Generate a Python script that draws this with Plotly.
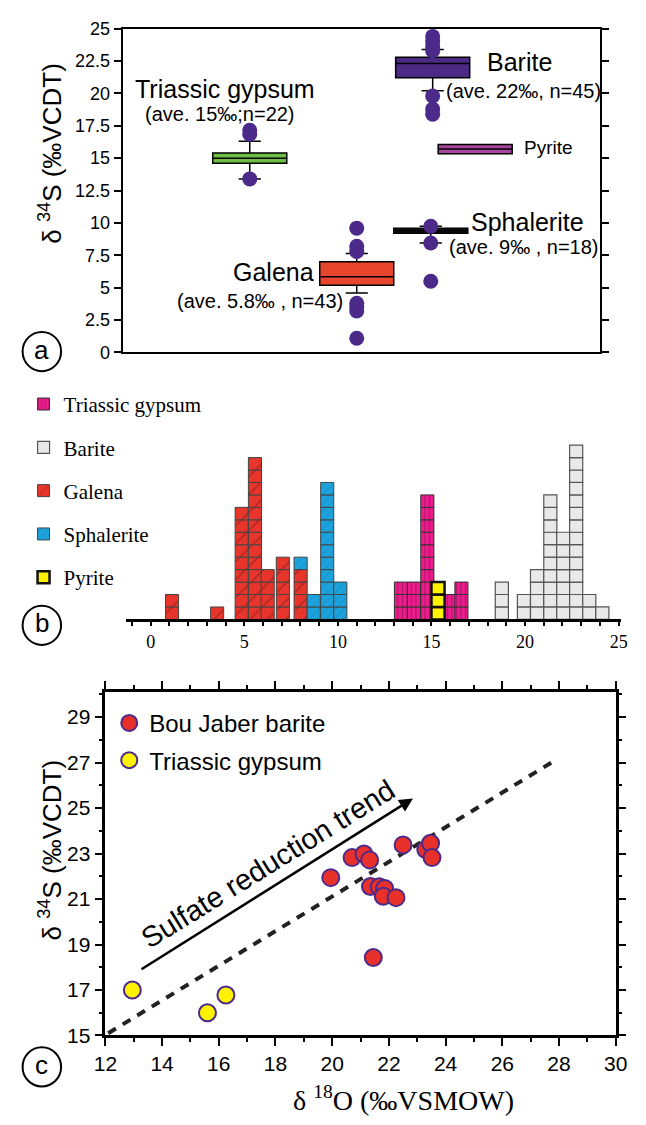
import plotly.graph_objects as go

W, H = 646, 1125

# ---------------- Panel (a): box statistics of d34S ----------------
box_names = ["Triassic gypsum", "Galena", "Barite", "Sphalerite", "Pyrite"]
box_pos = [2.66, 4.90, 6.49, 6.45, 7.38]
box_q1 = [14.6, 5.2, 21.2, 9.2, 15.35]
box_median = [15.0, 5.85, 22.3, 9.4, 15.7]
box_q3 = [15.4, 7.0, 22.8, 9.6, 16.05]
box_lowfence = [13.4, 4.6, 20.2, 8.45, 15.35]
box_highfence = [16.3, 7.65, 23.4, 9.75, 16.05]
box_colors = ["#6DBE45", "#E8452F", "#4B2A84", "#111111", "#A8449C"]

gypsum_outliers = [17.15, 16.85, 13.4]
galena_outliers = [9.6, 8.2, 7.8, 3.8, 3.5, 3.2, 1.1]
barite_outliers = [24.4, 24.0, 23.6, 23.3, 19.8, 18.8, 18.4]
sphalerite_outliers = [9.75, 8.45, 5.5]

# ---------------- Panel (b): histogram counts ----------------
galena_bins = [1.14, 3.55, 4.86, 5.57, 6.25, 7.06, 8.01]
galena_counts = [2, 1, 9, 13, 4, 5, 4]
sphalerite_bins = [8.01, 8.71, 9.43, 10.13]
sphalerite_counts = [1, 2, 11, 3]
gypsum_bins = [13.37, 14.07, 14.78, 15.98, 16.6]
gypsum_counts = [3, 3, 10, 2, 3]
pyrite_bins = [15.35]
pyrite_counts = [3]
barite_bins = [18.76, 19.94, 20.64, 21.35, 22.04, 22.73, 23.43, 24.13]
barite_counts = [3, 2, 4, 10, 7, 14, 2, 1]

# ---------------- Panel (c): d18O vs d34S ----------------
barite_o18 = [19.95, 20.7, 21.12, 21.32, 22.5, 23.3, 23.47, 23.52, 21.35, 21.66, 21.85, 21.8, 22.25, 21.45]
barite_s34 = [21.94, 22.82, 22.98, 22.72, 23.38, 23.18, 23.45, 22.82, 21.55, 21.54, 21.46, 21.12, 21.06, 18.43]
gypsum_o18 = [12.95, 15.6, 16.25]
gypsum_s34 = [17.0, 16.0, 16.78]
trend_x = [12.1, 27.8]
trend_y = [15.1, 27.05]
arrow_x = [13.22, 22.85]
arrow_y = [17.87, 25.42]

PURPLE = "#4B2A8A"
SANS = "Arial, Liberation Sans, sans-serif"
SERIF = "Times New Roman, Liberation Serif, serif"


def px(x):
    return x / W


def py(y):
    return 1 - y / H


fig = go.Figure()

# ---- panel a boxes
for i, name in enumerate(box_names):
    fig.add_trace(go.Box(
        x=[box_pos[i]], q1=[box_q1[i]], median=[box_median[i]], q3=[box_q3[i]],
        lowerfence=[box_lowfence[i]], upperfence=[box_highfence[i]],
        width=1.55, whiskerwidth=0.3, fillcolor=box_colors[i],
        line=dict(color="black", width=1.5), boxpoints=False,
        name=name, showlegend=False, xaxis="x", yaxis="y", hoverinfo="skip"))

for pos, vals in [(box_pos[0], gypsum_outliers), (box_pos[1], galena_outliers),
                  (box_pos[2], barite_outliers), (box_pos[3], sphalerite_outliers)]:
    fig.add_trace(go.Scatter(
        x=[pos] * len(vals), y=vals, mode="markers",
        marker=dict(size=15, color=PURPLE, line=dict(width=0)),
        showlegend=False, xaxis="x", yaxis="y", hoverinfo="skip"))


# ---- panel b stacked cells
def cells(bins, counts, offsets=None):
    xs, bs = [], []
    for b, c in zip(bins, counts):
        off = offsets.get(b, 0) if offsets else 0
        for k in range(c):
            xs.append(b)
            bs.append(off + k)
    return xs, bs, [1] * len(xs)


gal_off = dict(zip(galena_bins, galena_counts))
hist_series = [
    ("Triassic gypsum", gypsum_bins, gypsum_counts, None, "#EC1C8C", "#333333", 1,
     dict(shape="|", size=4.5, solidity=0.25, fgcolor="#6E0F45", fillmode="overlay"), 1),
    ("Barite", barite_bins, barite_counts, None, "#E9E9E9", "#555555", 1.2, None, 2),
    ("Galena", galena_bins, galena_counts, None, "#E8352B", "#444444", 1,
     dict(shape="/", size=12.7, solidity=0.08, fgcolor="#3A1010", fillmode="overlay"), 3),
    ("Sphalerite", sphalerite_bins, sphalerite_counts, gal_off, "#1CA2DC", "#444444", 1,
     dict(shape="/", size=6, solidity=0.1, fgcolor="#0D5B80", fillmode="overlay"), 4),
    ("Pyrite", pyrite_bins, pyrite_counts, None, "#FFF200", "#111111", 2.5, None, 5),
]
for name, bins, counts, offs, col, lcol, lw, pat, rank in hist_series:
    xs, bs, ys = cells(bins, counts, offs)
    mk = dict(color=col, line=dict(color=lcol, width=lw))
    if pat:
        mk["pattern"] = pat
    fig.add_trace(go.Bar(
        x=xs, y=ys, base=bs, width=0.7, marker=mk, name=name,
        legend="legend", legendgroup=name, legendrank=rank,
        xaxis="x2", yaxis="y2", hoverinfo="skip"))

# ---- panel c
fig.add_trace(go.Scatter(
    x=trend_x, y=trend_y, mode="lines",
    line=dict(color="#222222", width=4, dash="9px,8px"),
    showlegend=False, xaxis="x3", yaxis="y3", hoverinfo="skip"))
fig.add_trace(go.Scatter(
    x=barite_o18, y=barite_s34, mode="markers", name="Bou Jaber barite",
    marker=dict(size=17, color="#E8302A", line=dict(color=PURPLE, width=2)),
    legend="legend2", legendgroup="bj", legendrank=1,
    xaxis="x3", yaxis="y3", hoverinfo="skip"))
fig.add_trace(go.Scatter(
    x=gypsum_o18, y=gypsum_s34, mode="markers", name="Triassic gypsum",
    marker=dict(size=17, color="#FFF200", line=dict(color=PURPLE, width=2)),
    legend="legend2", legendgroup="tg", legendrank=2,
    xaxis="x3", yaxis="y3", hoverinfo="skip"))

# ---------------- annotations ----------------
ann = []


def text(x, y, s, size, family=SANS, angle=0, color="black"):
    ann.append(dict(x=px(x), y=py(y), xref="paper", yref="paper", text=s,
                    showarrow=False, xanchor="center", yanchor="middle",
                    textangle=angle, font=dict(family=family, size=size, color=color)))


text(221, 80, "Triassic gypsum", 25)
text(216, 106, "(ave. 15‰;n=22)", 20)
text(527, 53, "Barite", 25)
text(531, 83, "(ave. 22‰, n=45)", 20)
text(557, 140, "Pyrite", 19)
text(535, 216, "Sphalerite", 25)
text(532, 242, "(ave. 9‰ , n=18)", 20)
text(272, 267, "Galena", 25)
text(258, 297, "(ave. 5.8‰ , n=43)", 20)
text(40, 146, "δ <sup>34</sup>S (‰VCDT)", 26, angle=-90)
text(40, 856, "δ <sup>34</sup>S (‰VCDT)", 26, angle=-90)
text(407, 1109, "δ <sup>18</sup>O (‰VSMOW)", 28, family=SERIF)

for lbl, cy in [("a", 348), ("b", 627), ("c", 1077)]:
    text(31, cy - 2, lbl, 26)

# sulfate reduction arrow + label
ann.append(dict(x=arrow_x[1], y=arrow_y[1], ax=arrow_x[0], ay=arrow_y[0],
                xref="x3", yref="y3", axref="x3", ayref="y3", text="",
                showarrow=True, arrowhead=2, arrowsize=1.1, arrowwidth=2.5,
                arrowcolor="black"))
ann.append(dict(x=17.73, y=22.54, xref="x3", yref="y3", text="Sulfate reduction trend",
                showarrow=False, textangle=-31.8, xanchor="center", yanchor="middle",
                font=dict(family=SANS, size=29, color="black")))

shapes = []
for cy in [348, 627, 1077]:
    shapes.append(dict(type="circle", xref="paper", yref="paper",
                       x0=px(11), x1=px(51), y0=py(cy + 20), y1=py(cy - 20),
                       line=dict(color="black", width=2)))

fig.update_layout(
    width=W, height=H, margin=dict(l=0, r=0, t=0, b=0),
    paper_bgcolor="white", plot_bgcolor="white",
    barmode="overlay", boxmode="overlay",
    annotations=ann, shapes=shapes,
    xaxis=dict(domain=[px(115), px(611)], range=[0, 10], showgrid=False, zeroline=False,
               showticklabels=False, ticks="", showline=True, linecolor="black",
               linewidth=2, mirror=True, anchor="y"),
    yaxis=dict(domain=[py(349), py(19)], range=[0, 25], dtick=2.5, showgrid=False,
               zeroline=False, ticks="outside", ticklen=7, tickwidth=2, tickcolor="black",
               showline=True, linecolor="black", linewidth=2, mirror="ticks",
               tickfont=dict(family=SANS, size=18, color="black"), anchor="x"),
    xaxis2=dict(domain=[px(118), px(632)], range=[-1.34, 25.1], showgrid=False,
                zeroline=False, tick0=0, dtick=5,
                ticks="outside", ticklen=4, tickwidth=2, tickcolor="black",
                minor=dict(dtick=1, ticks="outside", ticklen=4, tickwidth=2, tickcolor="black"),
                showline=True, linecolor="black", linewidth=3, anchor="y2",
                tickfont=dict(family=SERIF, size=18, color="black")),
    yaxis2=dict(domain=[py(621), py(418)], range=[0, 16], visible=False, anchor="x2"),
    xaxis3=dict(domain=[px(97), px(627)], range=[12, 30], dtick=2, showgrid=False,
                zeroline=False, ticks="outside", ticklen=8, tickwidth=2, tickcolor="black",
                minor=dict(dtick=1, ticks="outside", ticklen=4, tickwidth=2, tickcolor="black"),
                showline=True, linecolor="black", linewidth=2.5, mirror="allticks",
                tickfont=dict(family=SANS, size=21, color="black"), anchor="y3"),
    yaxis3=dict(domain=[py(1045), py(695)], range=[15, 30.1], tick0=15, dtick=2,
                showgrid=False, zeroline=False, ticks="outside", ticklen=8, tickwidth=2,
                tickcolor="black",
                minor=dict(dtick=1, ticks="outside", ticklen=4, tickwidth=2, tickcolor="black"),
                showline=True, linecolor="black", linewidth=2.5, mirror="allticks",
                tickfont=dict(family=SANS, size=21, color="black"), anchor="x3"),
    legend=dict(x=px(12), y=py(381), xanchor="left", yanchor="top",
                font=dict(family=SERIF, size=21, color="black"),
                bgcolor="rgba(0,0,0,0)", tracegroupgap=13, traceorder="grouped"),
    legend2=dict(x=px(101), y=py(704), xanchor="left", yanchor="top",
                 font=dict(family=SANS, size=24, color="black"),
                 bgcolor="rgba(0,0,0,0)", tracegroupgap=3, traceorder="grouped"),
)

fig.write_html("out.html")
